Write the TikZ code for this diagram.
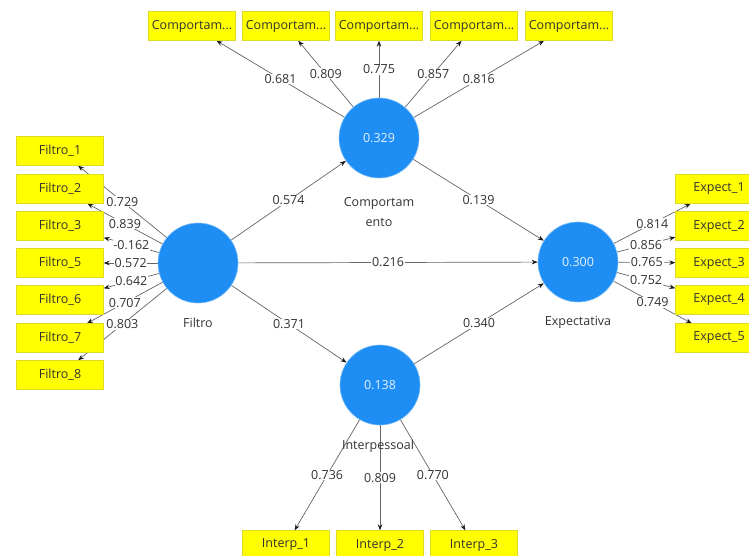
\documentclass[tikz,border=0pt]{standalone}
\usepackage{fontspec}
\setmainfont{Open Sans}
\usetikzlibrary{arrows.meta,backgrounds}
\definecolor{plsblue}{RGB}{30,142,245}
\definecolor{plsyellow}{RGB}{255,255,0}
\definecolor{boxedge}{RGB}{220,220,40}
\definecolor{txt}{RGB}{50,50,50}
\definecolor{edgecol}{RGB}{100,100,100}
\definecolor{tipcol}{RGB}{25,25,25}
\begin{document}
\begin{tikzpicture}[x=1pt,y=-1pt,
  indic/.style={draw=boxedge, fill=plsyellow, minimum width=87pt, minimum height=29pt,
    inner sep=0pt, font=\fontsize{12.5}{14}\selectfont, text=txt},
  lv/.style={circle, fill=plsblue, draw=plsblue!60!white, line width=0.6pt, minimum size=80pt,
    inner sep=0pt, text=white!88!plsblue, font=\fontsize{12.5}{14}\selectfont},
  link/.style={draw=edgecol, line width=0.7pt, -{Stealth[length=6pt,width=4.5pt,color=tipcol]}},
  coef/.style={fill=white, inner sep=0.8pt, font=\fontsize{12.5}{14}\selectfont, text=txt},
  lvname/.style={font=\fontsize{12.5}{20}\selectfont, text=txt, align=center}]
\useasboundingbox (0,0) rectangle (749,556);
\clip (0,0) rectangle (749,556);

% latent variables
\node[lv] (comp) at (379,138) {0.329};
\node[lv] (filtro) at (198,263) {};
\node[lv] (expect) at (578,262) {0.300};
\node[lv] (interp) at (380,385) {0.138};

% names
\node[lvname] (compname) at (379,212) {Comportam\\ento};
\node[lvname] (filtroname) at (198,323) {Filtro};
\node[lvname] (expectname) at (578,322) {Expectativa};
\node[lvname] (interpname) at (378,446) {Interpessoal};

% indicators: top
\node[indic] (c1) at (192,26) {Comportam...};
\node[indic] (c2) at (286,26) {Comportam...};
\node[indic] (c3) at (379,26) {Comportam...};
\node[indic] (c4) at (474,26) {Comportam...};
\node[indic] (c5) at (569,26) {Comportam...};

% indicators: left
\node[indic] (f1) at (60,151) {Filtro\_1};
\node[indic] (f2) at (60,189) {Filtro\_2};
\node[indic] (f3) at (60,226) {Filtro\_3};
\node[indic] (f5) at (60,263) {Filtro\_5};
\node[indic] (f6) at (60,300) {Filtro\_6};
\node[indic] (f7) at (60,338) {Filtro\_7};
\node[indic] (f8) at (60,375) {Filtro\_8};

% indicators: right
\node[indic] (e1) at (719,189) {Expect\_1};
\node[indic] (e2) at (719,226) {Expect\_2};
\node[indic] (e3) at (719,263) {Expect\_3};
\node[indic] (e4) at (719,300) {Expect\_4};
\node[indic] (e5) at (719,338) {Expect\_5};

% indicators: bottom
\node[indic] (i1) at (286,545) {Interp\_1};
\node[indic] (i2) at (380,545) {Interp\_2};
\node[indic] (i3) at (474,545) {Interp\_3};

\begin{scope}[on background layer]
% structural model
\draw[link] (filtro) -- node[coef] {0.574} (comp);
\draw[link] (filtro) -- node[coef] {0.216} (expect);
\draw[link] (filtro) -- node[coef] {0.371} (interp);
\draw[link] (comp) -- node[coef] {0.139} (expect);
\draw[link] (interp) -- node[coef] {0.340} (expect);

% outer loadings
\draw[link] (comp) -- node[coef] {0.681} (c1);
\draw[link] (comp) -- node[coef] {0.809} (c2);
\draw[link] (comp) -- node[coef] {0.775} (c3);
\draw[link] (comp) -- node[coef] {0.857} (c4);
\draw[link] (comp) -- node[coef] {0.816} (c5);

\draw[link] (filtro) -- node[coef] {0.729} (f1);
\draw[link] (filtro) -- node[coef] {0.839} (f2);
\draw[link] (filtro) -- node[coef] {-0.162} (f3);
\draw[link] (filtro) -- node[coef] {0.572} (f5);
\draw[link] (filtro) -- node[coef] {0.642} (f6);
\draw[link] (filtro) -- node[coef] {0.707} (f7);
\draw[link] (filtro) -- node[coef] {0.803} (f8);

\draw[link] (expect) -- node[coef] {0.814} (e1);
\draw[link] (expect) -- node[coef] {0.856} (e2);
\draw[link] (expect) -- node[coef] {0.765} (e3);
\draw[link] (expect) -- node[coef] {0.752} (e4);
\draw[link] (expect) -- node[coef] {0.749} (e5);

\draw[link] (interp) -- node[coef] {0.736} (i1);
\draw[link] (interp) -- node[coef] {0.809} (i2);
\draw[link] (interp) -- node[coef] {0.770} (i3);
\end{scope}
\end{tikzpicture}
\end{document}
